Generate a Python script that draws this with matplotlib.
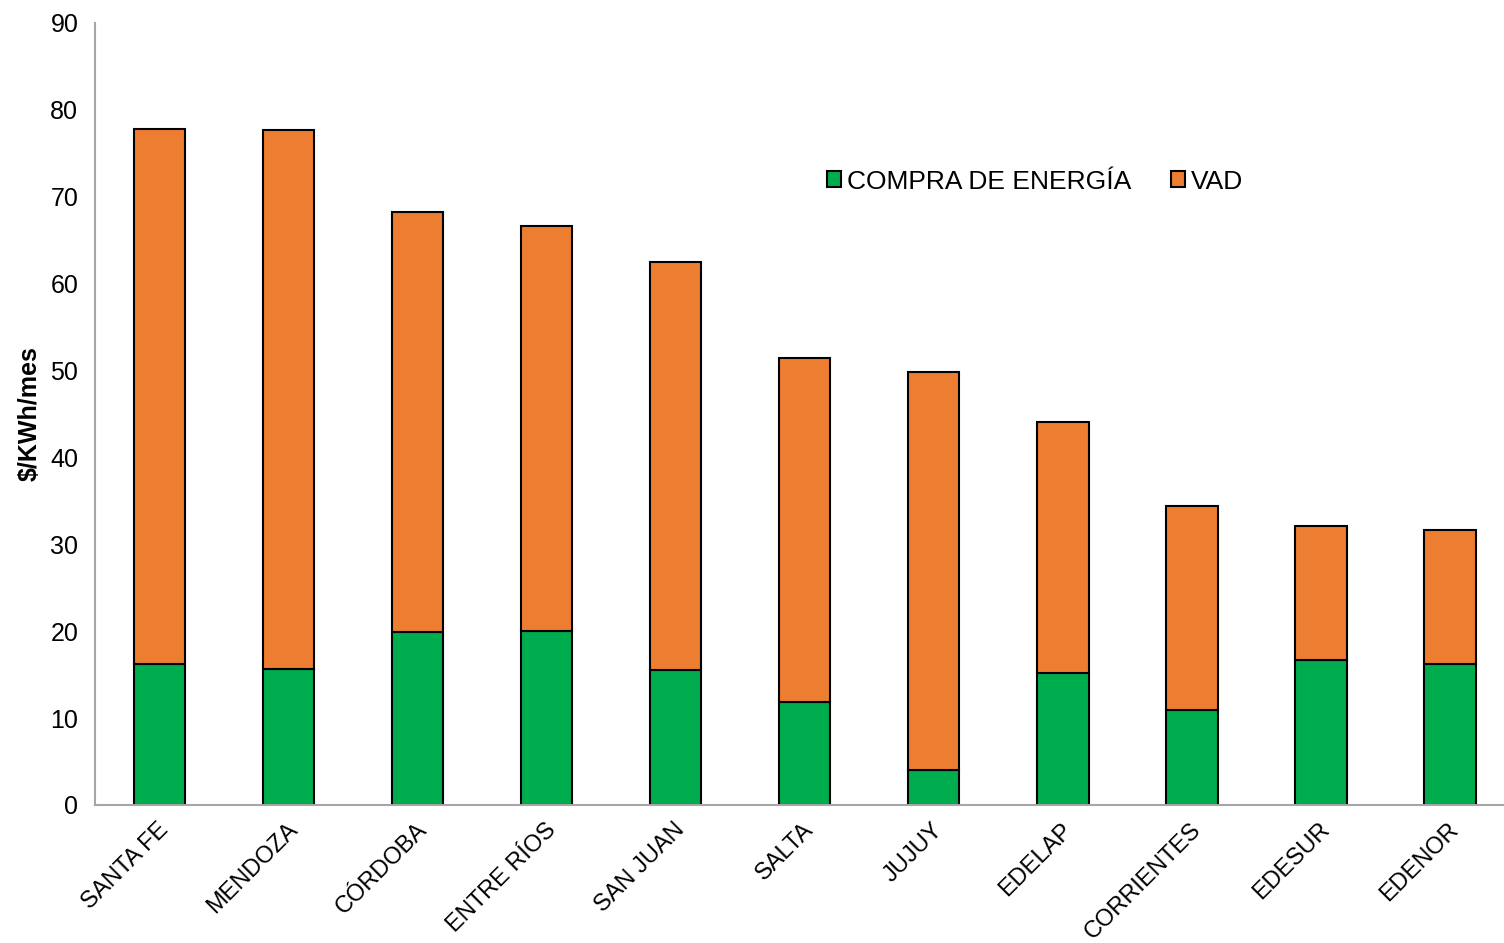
import numpy as np
import matplotlib
matplotlib.use('Agg')
import matplotlib.pyplot as plt
import matplotlib.transforms as mtransforms

plt.rcParams['font.family'] = ['Liberation Sans', 'DejaVu Sans']

regions = ['SANTA FE', 'MENDOZA', 'CÓRDOBA', 'ENTRE RÍOS', 'SAN JUAN', 'SALTA',
           'JUJUY', 'EDELAP', 'CORRIENTES', 'EDESUR', 'EDENOR']
compra = [16.2, 15.6, 19.9, 20.0, 15.5, 11.8, 4.0, 15.2, 10.9, 16.7, 16.2]
total = [77.8, 77.7, 68.3, 66.6, 62.5, 51.5, 49.8, 44.1, 34.4, 32.1, 31.6]
vad = [t - c for t, c in zip(total, compra)]

fig = plt.figure(figsize=(15.04, 9.43), dpi=100)
ax = fig.add_axes([95 / 1504, 138 / 943, 1409 / 1504, 782 / 943])

x = np.arange(len(regions))
ax.bar(x, compra, width=0.4, color='#00AD4E', edgecolor='black', linewidth=1.5,
       label='COMPRA DE ENERGÍA')
ax.bar(x, vad, bottom=compra, width=0.4, color='#ED7D31', edgecolor='black',
       linewidth=1.5, label='VAD')

ax.set_xlim(-0.5, 10.42)
ax.set_ylim(0, 90)
ax.set_yticks(range(0, 91, 10))
ax.set_xticks(x)
ax.set_xticklabels(regions, rotation=45, ha='right', rotation_mode='anchor', fontsize=17)
ax.tick_params(axis='y', labelsize=18, length=0, pad=12)
ax.tick_params(axis='x', length=0, pad=10)
offset = mtransforms.ScaledTranslation(-2 / 100, 0, fig.dpi_scale_trans)
for lbl in ax.get_xticklabels():
    lbl.set_transform(lbl.get_transform() + offset)
ax.set_ylabel('$/KWh/mes', fontsize=18, fontweight='bold', labelpad=6)

for s in ['top', 'right']:
    ax.spines[s].set_visible(False)
for s in ['left', 'bottom']:
    ax.spines[s].set_color('#A6A6A6')
    ax.spines[s].set_linewidth(1.5)

ax.legend(loc='center', bbox_to_anchor=(0.667, 0.797), ncol=2, frameon=False,
          fontsize=19, handlelength=0.55, handleheight=0.55, handletextpad=0.2,
          columnspacing=1.5)

fig.savefig('out.png', dpi=100)
